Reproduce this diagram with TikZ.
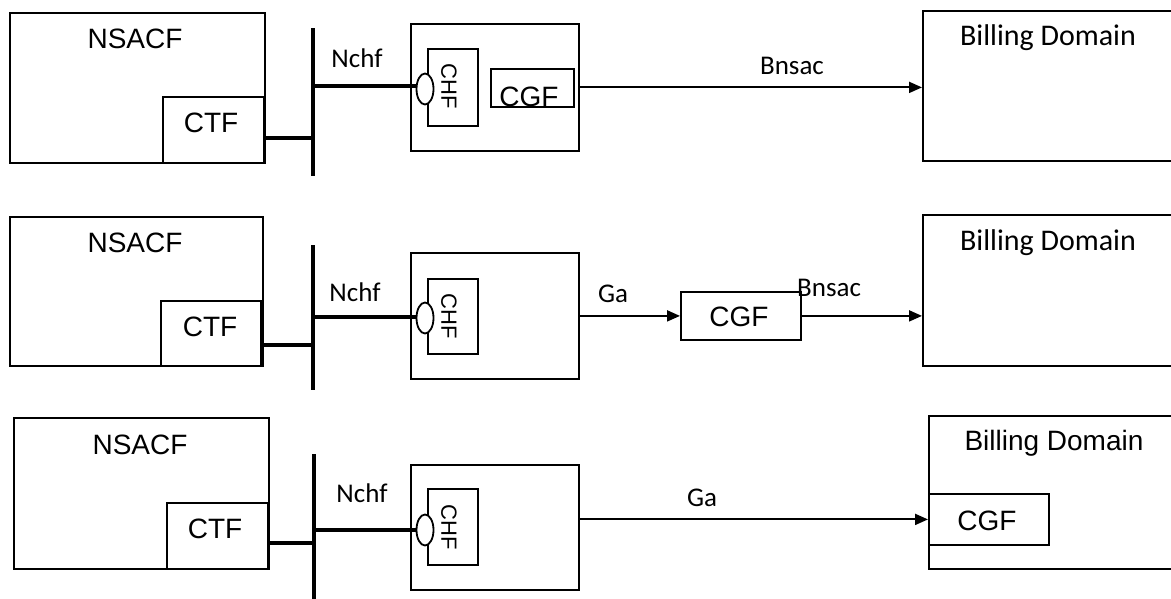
\documentclass[tikz,border=0pt]{standalone}
\usepackage{fontspec}
\setmainfont{Liberation Sans}
\newfontfamily\carl{Carlito}
\usetikzlibrary{arrows.meta,shapes.geometric}
\tikzset{
  rbox/.style={draw, rectangle, line width=1.8pt, inner sep=0pt, anchor=north west},
  ctfbox/.style={rbox, fill=white},
  arial/.style={inner sep=0pt, font=\fontsize{28pt}{31pt}\selectfont},
  calib/.style={inner sep=0pt, font=\carl\fontsize{27pt}{30pt}\selectfont},
  billc/.style={inner sep=0pt, font=\carl\fontsize{30pt}{33pt}\selectfont},
  chftxt/.style={inner sep=0pt, rotate=-90, font=\fontsize{22pt}{25pt}\selectfont},
  port/.style={draw, ellipse, line width=1.8pt, fill=white, minimum width=17pt, minimum height=31pt, inner sep=0pt},
  busline/.style={line width=4pt},
  thickline/.style={line width=3.2pt},
  flow/.style={line width=2pt, -{Triangle[length=13pt,width=11pt]}},
  plain/.style={line width=1.8pt}
}
\begin{document}
\begin{tikzpicture}[x=1pt,y=-1pt]
\clip (0,0) rectangle (1171,598);
\fill[white] (0,0) rectangle (1171,598);

% ---------------- Row 1 ----------------
\node[rbox, minimum width=255pt, minimum height=150pt] (nsacf1) at (9,12) {};
\node[arial] (nsacf1t) at (135,39) {NSACF};
\node[ctfbox, minimum width=101pt, minimum height=66pt] (ctf1) at (162,96) {};
\node[arial] (ctf1t) at (211,123) {CTF};
\draw[line width=3pt] (ctf1.north east) -- (ctf1.south east);
\coordinate (bus1t) at (313,28);
\coordinate (bus1b) at (313,176);
\coordinate (j1) at (313,138);
\coordinate (n1) at (313,86);
\draw[busline] (bus1t) -- (bus1b);
\draw[thickline] (ctf1.east |- j1) -- (j1);
\node[rbox, minimum width=168pt, minimum height=127pt] (o1) at (410,23) {};
\node[rbox, minimum width=50pt, minimum height=77pt] (c1) at (427,48) {};
\node[chftxt] (c1t) at (449,86) {CHF};
\node[port] (e1) at (425,89) {};
\draw[thickline] (n1) -- (e1.west |- n1);
\node[calib] (nchf1) at (357,58) {Nchf};
\node[rbox, minimum width=83pt, minimum height=38pt] (g1) at (490,68) {};
\node[arial, anchor=base] (g1t) at (529,106) {CGF};
\node[rbox, minimum width=260pt, minimum height=150pt] (b1) at (922,10) {};
\node[billc] (b1t) at (1048,38) {Billing Domain};
\draw[flow] (o1.east) -- (o1.east -| b1.west);
\node[calib] (bn1) at (792,66) {Bnsac};

% ---------------- Row 2 ----------------
\node[rbox, minimum width=253pt, minimum height=149pt] (nsacf2) at (9,216) {};
\node[arial] (nsacf2t) at (135,243) {NSACF};
\node[ctfbox, minimum width=100pt, minimum height=65pt] (ctf2) at (160,300) {};
\node[arial] (ctf2t) at (210,327) {CTF};
\draw[line width=3pt] (ctf2.north east) -- (ctf2.south east);
\coordinate (bus2t) at (313,245);
\coordinate (bus2b) at (313,390);
\coordinate (j2) at (313,345);
\coordinate (n2) at (313,317);
\draw[busline] (bus2t) -- (bus2b);
\draw[thickline] (ctf2.east |- j2) -- (j2);
\node[rbox, minimum width=168pt, minimum height=126pt] (o2) at (410,252) {};
\node[rbox, minimum width=50pt, minimum height=75pt] (c2) at (427,278) {};
\node[chftxt] (c2t) at (449,316) {CHF};
\node[port] (e2) at (425,318) {};
\draw[thickline] (n2) -- (e2.west |- n2);
\node[calib] (nchf2) at (355,292) {Nchf};
\node[rbox, minimum width=120pt, minimum height=48pt] (g2) at (680,291) {};
\node[arial] (g2t) at (739,317) {CGF};
\node[rbox, minimum width=260pt, minimum height=151pt] (b2) at (922,214) {};
\node[billc] (b2t) at (1048,243) {Billing Domain};
\draw[flow] (o2.east |- g2.west) -- (g2.west);
\node[calib] (ga2) at (613,294) {Ga};
\draw[flow] (g2.east) -- (g2.east -| b2.west);
\node[calib, anchor=west] (bn2) at (797,288) {Bnsac};

% ---------------- Row 3 ----------------
\node[rbox, minimum width=255pt, minimum height=151pt] (nsacf3) at (13,417) {};
\node[arial] (nsacf3t) at (140,445) {NSACF};
\node[ctfbox, minimum width=101pt, minimum height=66pt] (ctf3) at (166,502) {};
\node[arial] (ctf3t) at (215,529) {CTF};
\draw[line width=3pt] (ctf3.north east) -- (ctf3.south east);
\coordinate (bus3t) at (314,454);
\coordinate (bus3b) at (314,600);
\coordinate (j3) at (314,543);
\coordinate (n3) at (314,530);
\draw[busline] (bus3t) -- (bus3b);
\draw[thickline] (ctf3.east |- j3) -- (j3);
\node[rbox, minimum width=168pt, minimum height=125pt] (o3) at (410,464) {};
\node[rbox, minimum width=50pt, minimum height=76pt] (c3) at (427,488) {};
\node[chftxt] (c3t) at (449,527) {CHF};
\node[port] (e3) at (425,530) {};
\draw[thickline] (n3) -- (e3.west |- n3);
\node[calib] (nchf3) at (362,493) {Nchf};
\node[rbox, minimum width=255pt, minimum height=153pt] (b3) at (928,415) {};
\node[arial] (b3t) at (1054,443) {Billing Domain};
\node[rbox, minimum width=120pt, minimum height=51pt] (g3) at (928,493) {};
\node[arial] (g3t) at (987,521) {CGF};
\draw[flow] (o3.east |- g3.west) -- (g3.west);
\node[calib] (ga3) at (702,498) {Ga};
\end{tikzpicture}
\end{document}
